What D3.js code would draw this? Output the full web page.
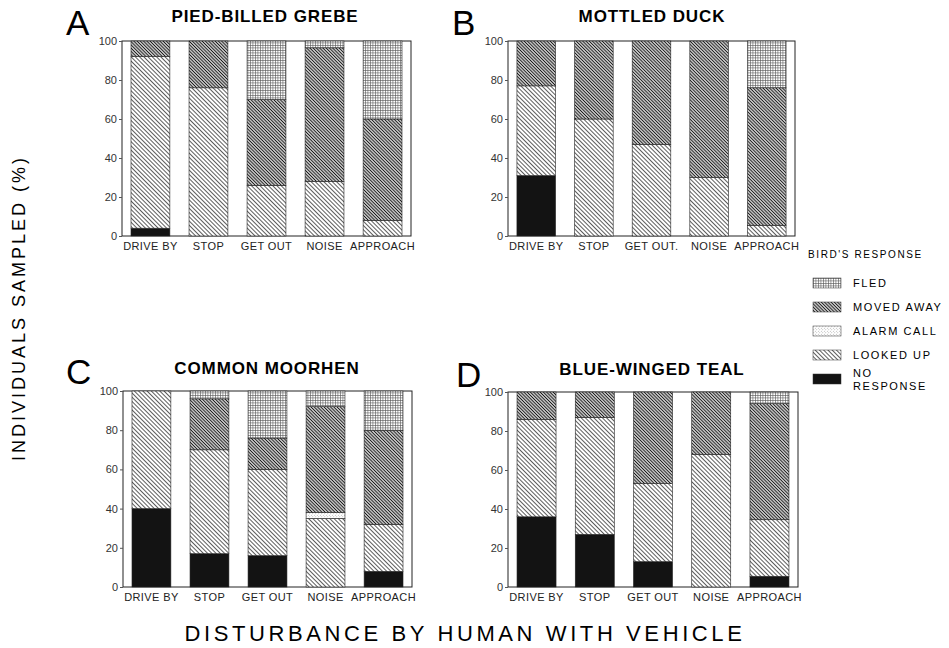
<!DOCTYPE html>
<html>
<head>
<meta charset="utf-8">
<script src="https://cdn.jsdelivr.net/npm/d3@7"></script>
<style>
    body { margin: 0; background: #fff; }
    text { font-family: "Liberation Sans", Arial, sans-serif; }
</style>
</head>
<body>
<div id="chart"></div>
<script>
const width = 949,
    height = 648;

// ---- data ----
const responses = ["NO RESPONSE", "LOOKED UP", "ALARM CALL", "MOVED AWAY", "FLED"];
const legendOrder = ["FLED", "MOVED AWAY", "ALARM CALL", "LOOKED UP", "NO RESPONSE"];
const disturbances = ["DRIVE BY", "STOP", "GET OUT", "NOISE", "APPROACH"];
const disturbancesDuck = ["DRIVE BY", "STOP", "GET OUT.", "NOISE", "APPROACH"];
const species = ["PIED-BILLED GREBE", "MOTTLED DUCK", "COMMON MOORHEN", "BLUE-WINGED TEAL"];
const panelLetters = ["A", "B", "C", "D"];
const yTicks = [0, 20, 40, 60, 80, 100];

// % of individuals, per disturbance (drive by, stop, get out, noise, approach)
const grebeNoResponse = [4, 0, 0, 0, 0];
const grebeLookedUp = [88, 76, 26, 28, 8];
const grebeAlarmCall = [0, 0, 0, 0, 0];
const grebeMovedAway = [8, 24, 44, 68.5, 52];
const grebeFled = [0, 0, 30, 3.5, 40];

const duckNoResponse = [31, 0, 0, 0, 0];
const duckLookedUp = [46, 60, 47, 30, 5.5];
const duckAlarmCall = [0, 0, 0, 0, 0];
const duckMovedAway = [23, 40, 53, 70, 70.5];
const duckFled = [0, 0, 0, 0, 24];

const moorhenNoResponse = [40, 17, 16, 0, 8];
const moorhenLookedUp = [60, 53, 44, 35, 24];
const moorhenAlarmCall = [0, 0, 0, 3, 0];
const moorhenMovedAway = [0, 26, 16, 54, 48];
const moorhenFled = [0, 4, 24, 8, 20];

const tealNoResponse = [36, 27, 13, 0, 5.5];
const tealLookedUp = [50, 60, 40, 68, 29];
const tealAlarmCall = [0, 0, 0, 0, 0];
const tealMovedAway = [14, 13, 47, 32, 59.5];
const tealFled = [0, 0, 0, 0, 6];

const seriesBySpecies = [
    [grebeNoResponse, grebeLookedUp, grebeAlarmCall, grebeMovedAway, grebeFled],
    [duckNoResponse, duckLookedUp, duckAlarmCall, duckMovedAway, duckFled],
    [moorhenNoResponse, moorhenLookedUp, moorhenAlarmCall, moorhenMovedAway, moorhenFled],
    [tealNoResponse, tealLookedUp, tealAlarmCall, tealMovedAway, tealFled],
];
const categoriesBySpecies = [disturbances, disturbancesDuck, disturbances, disturbances];

// ---- layout ----
const panels = [
    { left: 122, right: 411, top: 41, bottom: 236, letterX: 66, letterY: 35, titleX: 265, titleY: 22 },
    { left: 508, right: 795, top: 41, bottom: 236, letterX: 452, letterY: 35, titleX: 652, titleY: 22 },
    { left: 123, right: 412, top: 391, bottom: 587, letterX: 66, letterY: 384, titleX: 267, titleY: 374 },
    { left: 508, right: 798, top: 392, bottom: 587, letterX: 456, letterY: 387, titleX: 652, titleY: 375 },
];

const svg = d3
    .select("#chart")
    .append("svg")
    .attr("width", width)
    .attr("height", height);

// fill patterns for each response
const defs = svg.append("defs");

const fled = defs.append("pattern")
    .attr("id", "pat-fled")
    .attr("patternUnits", "userSpaceOnUse")
    .attr("width", 2.5)
    .attr("height", 2.5);
fled.append("rect").attr("width", 2.5).attr("height", 2.5).attr("fill", "#fff");
fled.append("path").attr("d", "M0,0.4H2.5M0.4,0V2.5").attr("stroke", "#555").attr("stroke-width", 0.6);

const moved = defs.append("pattern")
    .attr("id", "pat-moved")
    .attr("patternUnits", "userSpaceOnUse")
    .attr("width", 2.3)
    .attr("height", 2.3)
    .attr("patternTransform", "rotate(-45)");
moved.append("rect").attr("width", 2.3).attr("height", 2.3).attr("fill", "#fff");
moved.append("line").attr("x1", 1.15).attr("x2", 1.15).attr("y1", 0).attr("y2", 2.3)
    .attr("stroke", "#1a1a1a").attr("stroke-width", 1.2);

const alarm = defs.append("pattern")
    .attr("id", "pat-alarm")
    .attr("patternUnits", "userSpaceOnUse")
    .attr("width", 3)
    .attr("height", 3);
alarm.append("rect").attr("width", 3).attr("height", 3).attr("fill", "#fff");
alarm.append("circle").attr("cx", 0.8).attr("cy", 0.8).attr("r", 0.45).attr("fill", "#888");
alarm.append("circle").attr("cx", 2.3).attr("cy", 2.3).attr("r", 0.45).attr("fill", "#888");

const looked = defs.append("pattern")
    .attr("id", "pat-looked")
    .attr("patternUnits", "userSpaceOnUse")
    .attr("width", 3)
    .attr("height", 3)
    .attr("patternTransform", "rotate(-45)");
looked.append("rect").attr("width", 3).attr("height", 3).attr("fill", "#fff");
looked.append("line").attr("x1", 1.5).attr("x2", 1.5).attr("y1", 0).attr("y2", 3)
    .attr("stroke", "#333").attr("stroke-width", 0.8);

const fillScale = d3
    .scaleOrdinal()
    .domain(responses)
    .range(["#131313", "url(#pat-looked)", "url(#pat-alarm)", "url(#pat-moved)", "url(#pat-fled)"]);

// ---- panels ----
species.forEach((name, i) => {
    const p = panels[i];
    const cats = categoriesBySpecies[i];
    const series = seriesBySpecies[i];

    const rows = cats.map((c, j) => {
        const row = { cat: c };
        responses.forEach((r, k) => (row[r] = series[k][j]));
        return row;
    });
    const stacked = d3.stack().keys(responses)(rows);

    const xScale = d3
        .scaleBand()
        .domain(cats)
        .range([p.left, p.right])
        .paddingInner(0.33)
        .paddingOuter(0.155);
    const yScale = d3.scaleLinear().domain([0, 100]).range([p.bottom, p.top]);

    const g = svg.append("g");

    g.append("rect")
        .attr("x", p.left)
        .attr("y", p.top)
        .attr("width", p.right - p.left)
        .attr("height", p.bottom - p.top)
        .attr("fill", "#fff")
        .attr("stroke", "#222")
        .attr("stroke-width", 1);

    g.selectAll(".layer")
        .data(stacked)
        .join("g")
        .attr("fill", (d) => fillScale(d.key))
        .selectAll("rect")
        .data((d) => d.filter((s) => s[1] - s[0] > 0))
        .join("rect")
        .attr("x", (d) => xScale(d.data.cat))
        .attr("y", (d) => yScale(d[1]))
        .attr("width", xScale.bandwidth())
        .attr("height", (d) => yScale(d[0]) - yScale(d[1]))
        .attr("stroke", "#222")
        .attr("stroke-width", 0.6);

    const yAxis = g.append("g")
        .attr("transform", `translate(${p.left}, 0)`)
        .call(d3.axisLeft(yScale).tickValues(yTicks).tickSize(3).tickPadding(2));
    yAxis.select(".domain").remove();
    yAxis.selectAll("line").attr("stroke", "#555");
    yAxis.selectAll("text")
        .attr("fill", "#333")
        .style("font-size", "11px")
        .style("font-family", "'Liberation Sans', Arial, sans-serif");

    const xAxis = g.append("g")
        .attr("transform", `translate(0, ${p.bottom})`)
        .call(d3.axisBottom(xScale).tickSize(0).tickPadding(6));
    xAxis.select(".domain").remove();
    xAxis.selectAll("text")
        .attr("fill", "#222")
        .style("font-size", "11px")
        .style("letter-spacing", "0.4px")
        .style("font-family", "'Liberation Sans', Arial, sans-serif");

    g.append("text")
        .attr("x", p.titleX)
        .attr("y", p.titleY)
        .attr("text-anchor", "middle")
        .style("font-size", "17px")
        .style("font-weight", "bold")
        .style("letter-spacing", "0.9px")
        .text(name);

    g.append("text")
        .attr("x", p.letterX)
        .attr("y", p.letterY)
        .style("font-size", "35px")
        .text(panelLetters[i]);
});

// ---- axis titles ----
svg.append("text")
    .attr("transform", "translate(25, 308) rotate(-90)")
    .attr("text-anchor", "middle")
    .style("font-size", "18px")
    .style("letter-spacing", "3px")
    .text("INDIVIDUALS SAMPLED (%)");

svg.append("text")
    .attr("x", 465)
    .attr("y", 641)
    .attr("text-anchor", "middle")
    .style("font-size", "22px")
    .style("letter-spacing", "3.6px")
    .text("DISTURBANCE BY HUMAN WITH VEHICLE");

// ---- legend ----
const legend = svg.append("g");
legend.append("text")
    .attr("x", 808)
    .attr("y", 258)
    .style("font-size", "10px")
    .style("letter-spacing", "1.6px")
    .text("BIRD'S RESPONSE");

const legendY = d3.scalePoint().domain(legendOrder).range([278, 374]);

const items = legend.selectAll(".item")
    .data(legendOrder)
    .join("g")
    .attr("class", "item")
    .attr("transform", (d) => `translate(813, ${legendY(d)})`);

items.append("rect")
    .attr("width", 28)
    .attr("height", 10)
    .attr("fill", (d) => fillScale(d))
    .attr("stroke", "#333")
    .attr("stroke-width", 0.5);

items.append("text")
    .attr("x", 40)
    .attr("y", (d) => (d === "NO RESPONSE" ? 3 : 9))
    .style("font-size", "11px")
    .style("letter-spacing", "1.6px")
    .each(function (d) {
        const t = d3.select(this);
        if (d === "NO RESPONSE") {
            t.append("tspan").attr("x", 40).text("NO");
            t.append("tspan").attr("x", 40).attr("dy", 13).text("RESPONSE");
        } else {
            t.text(d);
        }
    });
</script>
</body>
</html>
